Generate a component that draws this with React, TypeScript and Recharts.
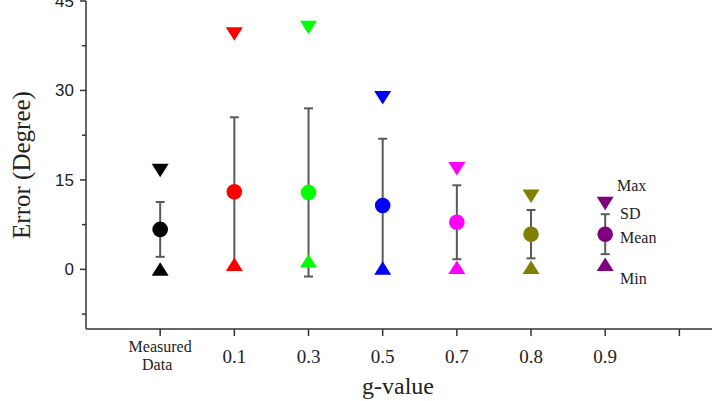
import React from 'react';
import { ComposedChart, Scatter, XAxis, YAxis, ErrorBar } from 'recharts';

// Max / Mean ± SD / Min of the angular error for each g-value.
const categories = ['Measured Data', '0.1', '0.3', '0.5', '0.7', '0.8', '0.9'];
const colors = ['#000000', '#ff0000', '#00ff00', '#0000ff', '#ff00ff', '#808000', '#800080'];
const maxVals = [16.6, 39.5, 40.6, 28.8, 16.9, 12.3, 11.1];
const meanVals = [6.7, 13.0, 12.9, 10.7, 7.9, 5.9, 5.9];
const sdVals = [4.6, 12.5, 14.1, 11.2, 6.2, 4.05, 3.35];
const minVals = [0, 0.8, 1.4, 0.2, 0.3, 0.3, 0.8];

const yTicks = [-7.5, 0, 7.5, 15, 22.5, 30, 37.5, 45];
const yLabelled = [0, 15, 30, 45];
const xTicks = [1, 2, 3, 4, 5, 6, 7, 8];
const legendLabels = ['Max', 'SD', 'Mean', 'Min'];

const W = 712;
const H = 401;
const AXIS_X = 86;
const AXIS_Y = 329;
const AXIS_COLOR = '#333';
const SERIF = '"Liberation Serif", "Times New Roman", serif';
const SANS = '"Liberation Sans", Arial, sans-serif';

const data = categories.map((c, i) => ({
  x: i + 1,
  name: c,
  color: colors[i],
  max: maxVals[i],
  mean: meanVals[i],
  sd: sdVals[i],
  min: minVals[i],
}));

const TriDown = (p: any) => {
  const { cx, cy, payload } = p;
  return (
    <path
      d={`M${cx - 8.5},${cy - 6.5} L${cx + 8.5},${cy - 6.5} L${cx},${cy + 7} Z`}
      fill={payload.color}
    />
  );
};

const TriUp = (p: any) => {
  const { cx, cy, payload } = p;
  return (
    <path
      d={`M${cx - 8.5},${cy + 6.5} L${cx + 8.5},${cy + 6.5} L${cx},${cy - 7} Z`}
      fill={payload.color}
    />
  );
};

const Dot = (p: any) => <circle cx={p.cx} cy={p.cy} r={7.8} fill={p.payload.color} />;

const Hidden = () => <g />;

const YTick = (p: any) => {
  const v = p.payload.value;
  const major = yLabelled.includes(v);
  return (
    <g>
      <line x1={AXIS_X - (major ? 6 : 4)} x2={AXIS_X} y1={p.y} y2={p.y} stroke={AXIS_COLOR} strokeWidth={1.5} />
      {major && (
        <text x={AXIS_X - 12} y={p.y} dy={6} textAnchor="end" fontFamily={SANS} fontSize={17} fill="#222">
          {v}
        </text>
      )}
    </g>
  );
};

const XTick = (p: any) => {
  const v = p.payload.value;
  const label = categories[v - 1];
  const x = p.x;
  return (
    <g>
      <line x1={x} x2={x} y1={AXIS_Y} y2={AXIS_Y + 7} stroke={AXIS_COLOR} strokeWidth={1.5} />
      {label === 'Measured Data' ? (
        <text textAnchor="middle" fontFamily={SERIF} fontSize={16} fill="#222">
          <tspan x={x} y={AXIS_Y + 23}>Measured</tspan>
          <tspan x={x - 3} y={AXIS_Y + 41}>Data</tspan>
        </text>
      ) : label ? (
        <text x={x} y={AXIS_Y + 34} textAnchor="middle" fontFamily={SERIF} fontSize={19} fill="#222">
          {label}
        </text>
      ) : null}
    </g>
  );
};

const legendPos = [
  { x: 617, y: 191 },
  { x: 620, y: 219 },
  { x: 620, y: 243 },
  { x: 620, y: 284 },
];

export default function App() {
  return (
    <div style={{ position: 'absolute', left: 0, top: 0, width: W, height: H, background: '#fff' }}>
      <ComposedChart width={W} height={H} data={data} margin={{ top: 1, right: 0, bottom: 0, left: 0 }}>
        <XAxis
          type="number"
          dataKey="x"
          domain={[0, 8.44]}
          ticks={xTicks}
          interval={0}
          tick={<XTick />}
          tickLine={false}
          axisLine={{ stroke: AXIS_COLOR, strokeWidth: 1.5 }}
          height={72}
          allowDataOverflow
        />
        <YAxis
          type="number"
          domain={[-10, 45]}
          ticks={yTicks}
          interval={0}
          tick={<YTick />}
          tickLine={false}
          axisLine={{ stroke: AXIS_COLOR, strokeWidth: 1.5 }}
          width={AXIS_X}
          allowDataOverflow
        />
        <Scatter dataKey="mean" shape={<Hidden />} isAnimationActive={false}>
          <ErrorBar dataKey="sd" direction="y" width={4.5} stroke="#5a5a5a" strokeWidth={2} />
        </Scatter>
        <Scatter dataKey="mean" shape={<Dot />} isAnimationActive={false} />
        <Scatter dataKey="max" shape={<TriDown />} isAnimationActive={false} />
        <Scatter dataKey="min" shape={<TriUp />} isAnimationActive={false} />
        <text x={398} y={394} textAnchor="middle" fontFamily={SERIF} fontSize={24} fill="#222">
          g-value
        </text>
        <text
          x={30}
          y={165}
          textAnchor="middle"
          fontFamily={SERIF}
          fontSize={25}
          fill="#222"
          transform="rotate(-90 30 165)"
        >
          Error (Degree)
        </text>
        {legendLabels.map((t, i) => (
          <text key={t} x={legendPos[i].x} y={legendPos[i].y} fontFamily={SERIF} fontSize={16} fill="#222">
            {t}
          </text>
        ))}
      </ComposedChart>
    </div>
  );
}
